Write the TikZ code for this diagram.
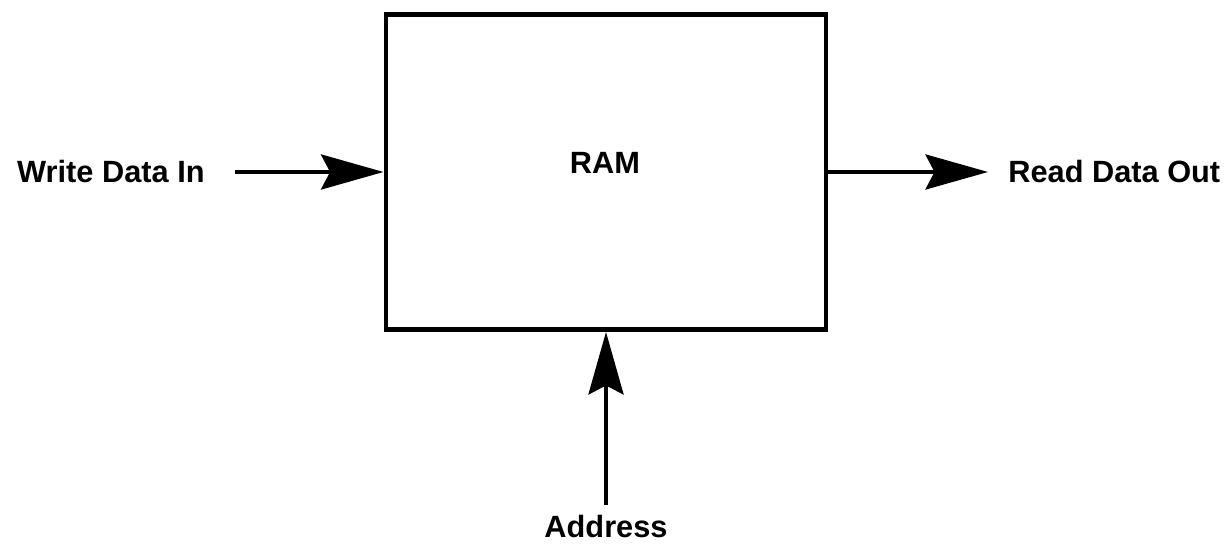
\documentclass[tikz,border=0pt]{standalone}
\usepackage{fontspec}
\setmainfont{Liberation Sans}
\usetikzlibrary{arrows.meta,positioning,calc}

\tikzset{
  membox/.style={draw, line width=2.8pt, minimum width=8.8cm, minimum height=6.3cm},
  lbl/.style={font=\fontsize{17.5}{21}\selectfont\bfseries},
  sig/.style={line width=2.4pt, -{Stealth[length=1.25cm, width=0.7cm, inset=0.18cm]}}
}

\begin{document}
\begin{tikzpicture}
    \useasboundingbox (0,0) rectangle (24.62,10.98);
    % memory block
    \node[membox] (ram) at (12.12,7.54) {};
    \node[lbl] (ramlabel) at (12.10,7.72) {RAM};
    % write port
    \node[lbl, anchor=east, inner xsep=0.6cm] (win) at (4.7,7.54) {Write Data In};
    \draw[sig] (win.east) -- (ram.west);
    % read port
    \node[lbl, anchor=west, inner xsep=0.4cm] (rdo) at (19.76,7.54) {Read Data Out};
    \draw[sig] (ram.east) -- (rdo.west);
    % address
    \node[lbl, anchor=north, inner ysep=0.2cm] (addr) at (12.12,0.88) {Address};
    \draw[sig] (addr.north) -- (ram.south);
\end{tikzpicture}
\end{document}
